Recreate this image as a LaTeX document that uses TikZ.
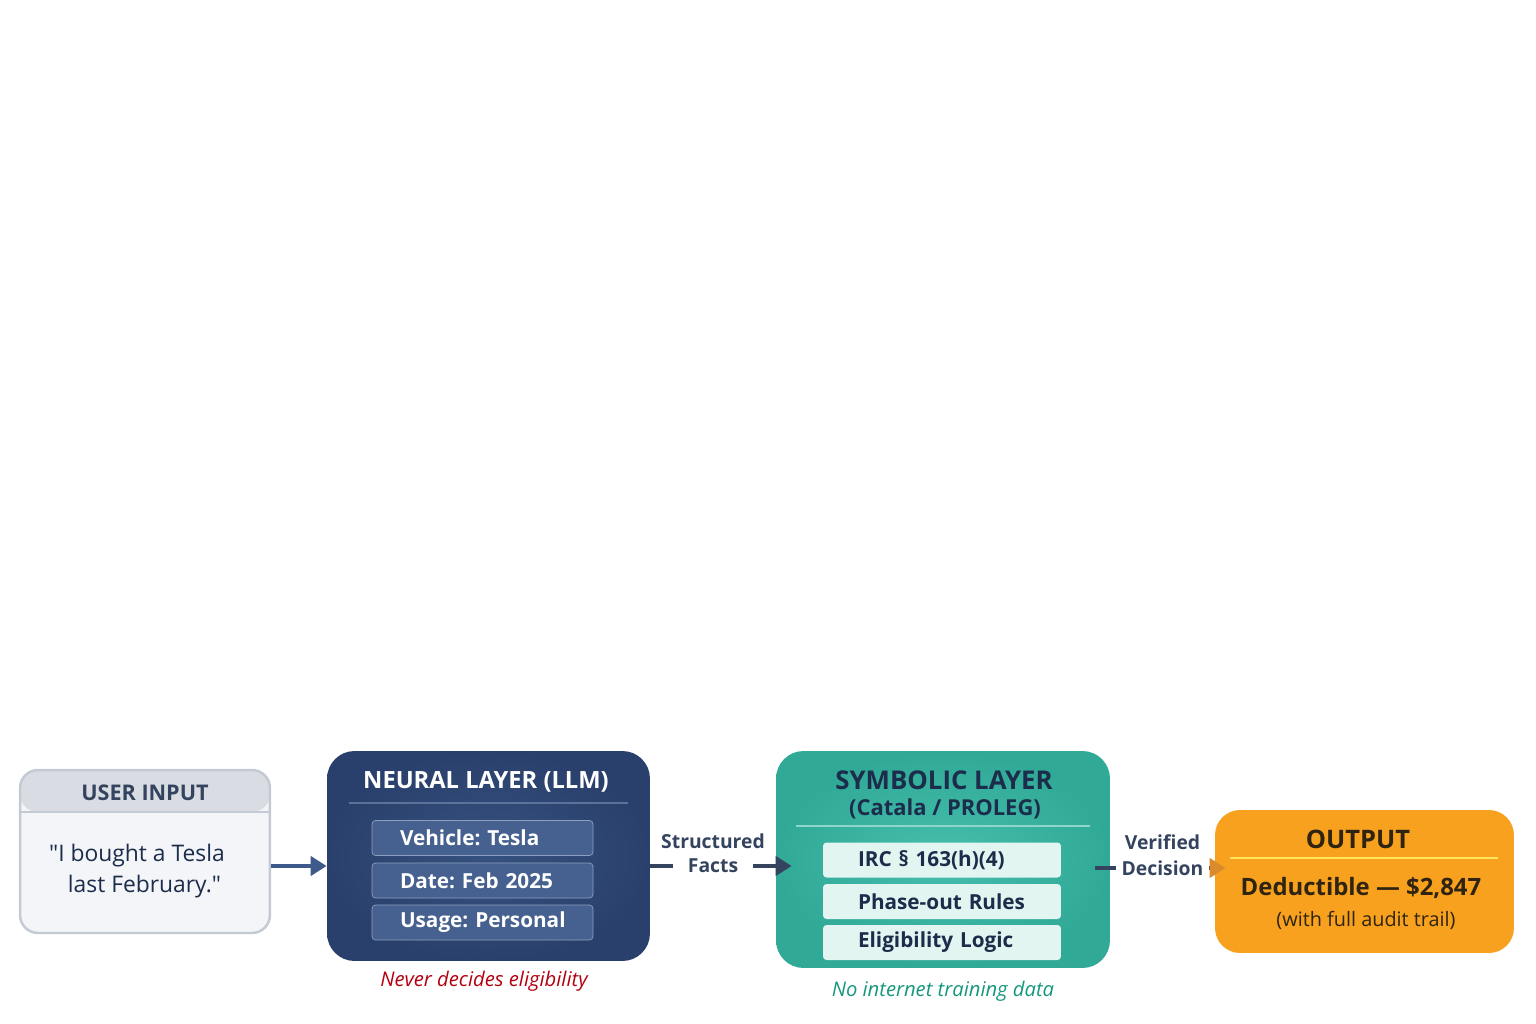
\documentclass[tikz,border=0pt]{standalone}
\usepackage{fontspec}
\setmainfont{Open Sans}
\usetikzlibrary{arrows.meta}

\definecolor{inhead}{HTML}{D9DDE3}
\definecolor{inbody}{HTML}{F3F5F8}
\definecolor{inline}{HTML}{C3CAD4}
\definecolor{inkdark}{HTML}{34445E}
\definecolor{navyout}{HTML}{2A406C}
\definecolor{navyin}{HTML}{36517F}
\definecolor{navyrule}{HTML}{5D7199}
\definecolor{navycell}{HTML}{46618F}
\definecolor{navyedge}{HTML}{8EA0C0}
\definecolor{tealout}{HTML}{31A997}
\definecolor{tealin}{HTML}{45BEAD}
\definecolor{tealrule}{HTML}{8DD6CB}
\definecolor{tealcell}{HTML}{E2F5F0}
\definecolor{tealnote}{HTML}{15977F}
\definecolor{symink}{HTML}{1B2D4B}
\definecolor{outfill}{HTML}{F7A11F}
\definecolor{outrule}{HTML}{FDE45A}
\definecolor{outink}{HTML}{2E2410}
\definecolor{notered}{HTML}{B3000F}
\definecolor{flowblue}{HTML}{3D5A8A}
\definecolor{flowhead}{HTML}{D98B2E}

\newcommand\headfont{\fontsize{13.5}{16.5}\selectfont\bfseries}
\newcommand\cellfont{\fontsize{11.8}{14}\selectfont\bfseries}
\frenchspacing

\begin{document}
\begin{tikzpicture}[x=0.02cm,y=-0.02cm,
    layer/.style={rounded corners=0.55cm, inner sep=0pt},
    cell/.style={rounded corners=2pt, minimum height=0.7cm, inner ysep=0pt,
      inner xsep=0.2cm, align=left, font=\cellfont},
    navy cell/.style={cell, fill=navycell, draw=navyedge, text=white, text width=4.02cm,
      execute at begin node={\hspace*{0.36cm}}},
    teal cell/.style={cell, fill=tealcell, text=symink, text width=4.36cm,
      execute at begin node={\hspace*{0.5cm}}},
    flow/.style={line width=2.8pt, -{Triangle[length=0.32cm,width=0.38cm]}},
    tag/.style={inner sep=0pt, text=inkdark, font=\fontsize{11}{14}\selectfont\bfseries},
    note/.style={font=\fontsize{11.5}{14}\selectfont\itshape}]
  \useasboundingbox (0,0) rectangle (1536,1024);

  % user input
  \node[layer, rounded corners=0.36cm, fill=inbody, draw=inline, line width=1.4pt,
    minimum width=5cm, minimum height=3.26cm,
    path picture={\fill[inhead] (path picture bounding box.north west)
      rectangle ([yshift=-0.84cm]path picture bounding box.north east);
      \draw[inline, line width=1pt] ([yshift=-0.84cm]path picture bounding box.north west)
      -- ([yshift=-0.84cm]path picture bounding box.north east);}]
    (user) at (145,851.5) {};
  \node[text=inkdark, font=\fontsize{12.3}{15}\selectfont\bfseries] (userhead) at (145,793) {USER INPUT};
  \node[align=center, text=symink, font=\fontsize{13}{17.5}\selectfont]
    (quote) at (137,871) {\textquotedbl I bought a Tesla\\ \hspace*{0.3cm}last February.\textquotedbl};

  % neural layer
  \node[layer, shading=radial, inner color=navyin, outer color=navyout,
    minimum width=6.46cm, minimum height=4.2cm] (neural) at (488.5,856) {};
  \node[text=white, font=\headfont] (neuralhead) at (486,782) {NEURAL LAYER (LLM)};
  \draw[navyrule, line width=0.8pt] (349,803) -- (628,803);
  \node[navy cell] (vehicle) at (482.5,838) {Vehicle: Tesla};
  \node[navy cell] (date) at (482.5,880.5) {Date: Feb 2025};
  \node[navy cell] (usage) at (482.5,922.5) {Usage: Personal};
  \node[note, text=notered] (neuralnote) at (484,981) {Never decides eligibility};

  % symbolic layer
  \node[layer, shading=radial, inner color=tealin, outer color=tealout,
    minimum width=6.68cm, minimum height=4.34cm] (symbolic) at (943,859.5) {};
  \node[text=symink, font=\fontsize{14.7}{17}\selectfont\bfseries] (symhead) at (944,780)
    {SYMBOLIC LAYER};
  \node[text=symink, font=\fontsize{12.5}{15}\selectfont\bfseries] (symsub) at (945,809)
    {(Catala / PROLEG)};
  \draw[tealrule, line width=0.8pt] (796,826) -- (1090,826);
  \node[teal cell] (irc) at (942,860) {IRC § 163(h)(4)};
  \node[teal cell] (phase) at (942,901.5) {Phase-out Rules};
  \node[teal cell] (logic) at (942,942.5) {Eligibility Logic};
  \node[note, text=tealnote] (symnote) at (943,991) {No internet training data};

  % output
  \node[layer, rounded corners=0.5cm, fill=outfill,
    minimum width=5.98cm, minimum height=2.86cm] (output) at (1364.5,881.5) {};
  \node[text=outink, font=\fontsize{14.5}{17}\selectfont\bfseries] (outhead) at (1358,839) {OUTPUT};
  \draw[outrule, line width=1.6pt] (1230,858) -- (1498,858);
  \node[text=outink, font=\fontsize{13.6}{16}\selectfont\bfseries] (amount) at (1361,888)
    {Deductible — \$2,847};
  \node[text=outink, font=\fontsize{11.3}{13}\selectfont] (trail) at (1366,920)
    {(with full audit trail)};

  % connectors
  \draw[flow, flowblue] (user.east |- 0,866) -- (neural.west |- 0,866);
  \draw[flow, inkdark, shorten >=-0.32cm] (neural.east |- 0,866) --
    node[tag, fill=white, inner xsep=0.3cm, inner ysep=1pt] (factstag) {Facts}
    (symbolic.west |- 0,866);
  \node[tag, anchor=south, yshift=0.12cm] (structtag) at (factstag.north) {Structured};
  \draw[line width=2.8pt, inkdark, shorten <=-0.3cm, shorten >=-0.22cm,
    -{Triangle[length=0.32cm,width=0.38cm,color=flowhead]}]
    (symbolic.east |- 0,868) --
    node[tag, fill=white, inner xsep=0.12cm, inner ysep=1pt] (decisiontag) {Decision}
    (output.west |- 0,868);
  \node[tag, anchor=south, yshift=0.12cm] (verifiedtag) at (decisiontag.north) {Verified};
\end{tikzpicture}
\end{document}
